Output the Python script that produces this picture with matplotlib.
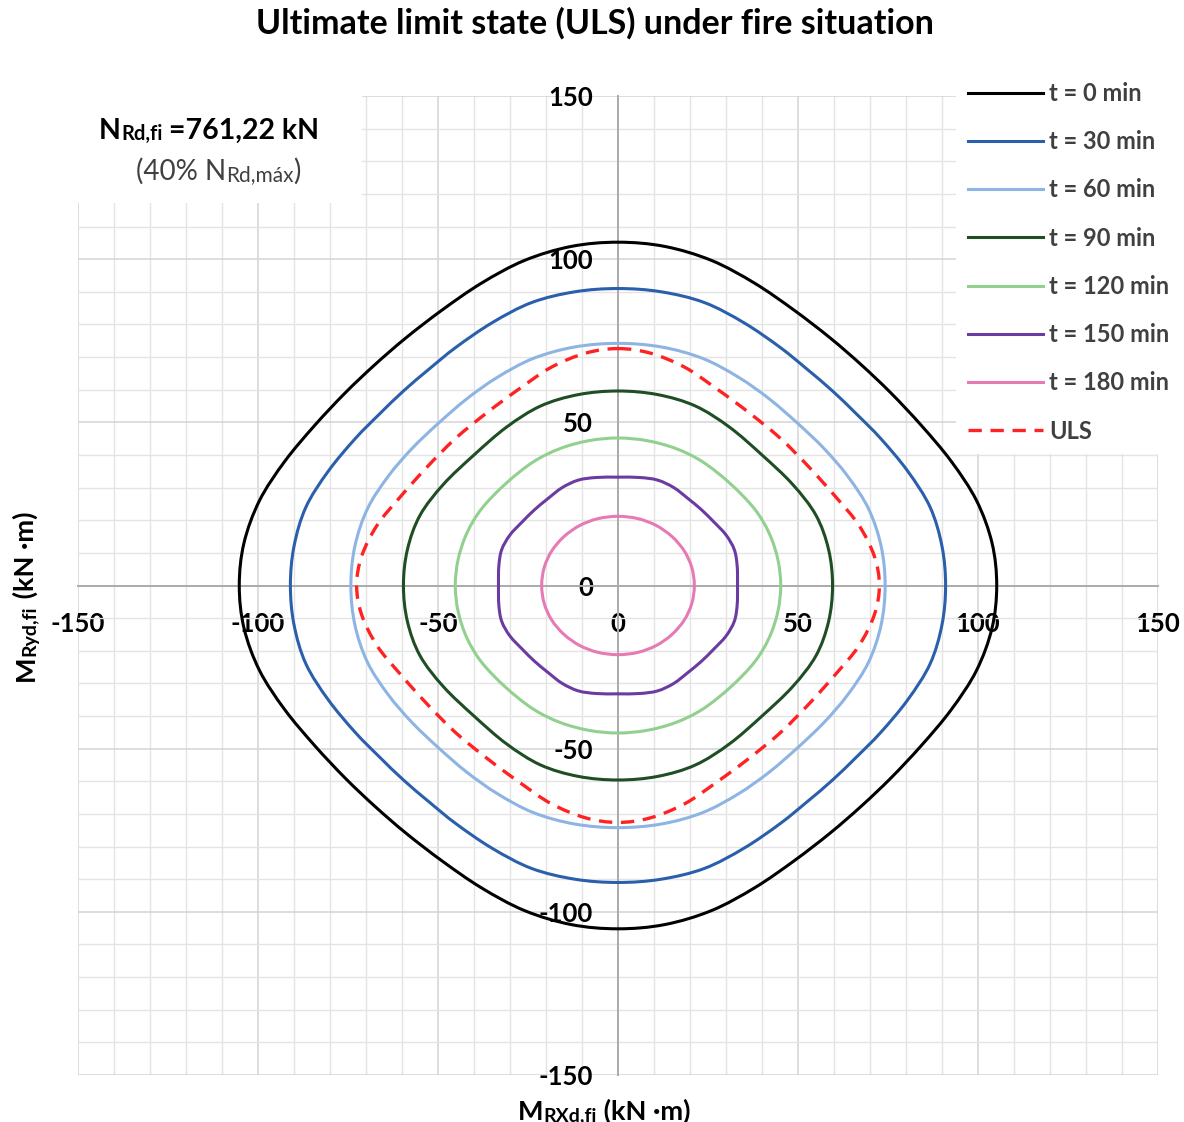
import matplotlib.pyplot as plt
from matplotlib.ticker import MultipleLocator
from matplotlib.patches import Rectangle, PathPatch
from matplotlib.path import Path
import numpy as np

plt.rcParams['font.family'] = ['Lato', 'DejaVu Sans']
plt.rcParams['axes.unicode_minus'] = False

# M_Rx / M_Ry interaction curves, first quadrant only (kN.m);
# the section is doubly symmetric so the other quadrants are mirrored
t0_x = [0, 13, 26, 38, 49, 59, 67.6, 75.8, 84.3, 92.6, 99.6, 103.9, 105.2]
t0_y = [105.2, 103.9, 99.6, 92.6, 84.3, 75.8, 67.6, 59, 49, 38, 26, 13, 0]

t30_x = [0, 12, 24, 35, 45, 52.5, 59.6, 66.3, 73, 80.5, 86.7, 90, 91]
t30_y = [91, 90, 86.7, 80.5, 73, 66.3, 59.6, 52.5, 45, 35, 24, 12, 0]

t60_x = [0, 12, 23.5, 33.5, 42, 49.8, 57.2, 63.8, 69.6, 73.1, 74.2]
t60_y = [74.2, 73.1, 69.6, 63.8, 57.2, 49.8, 42, 33.5, 23.5, 12, 0]

t90_x = [0, 11, 21.5, 31, 40, 48.5, 55, 58.5, 59.6]
t90_y = [59.6, 58.5, 55, 48.5, 40, 31, 21.5, 11, 0]

t120_x = [0, 8, 16, 23.5, 31.2, 37.9, 42, 44.4, 45.2]
t120_y = [45.2, 44.4, 42, 37.9, 31.2, 23.5, 16, 8, 0]

t150_x = [0, 6, 11, 15.5, 19.5, 23.2, 26.6, 30, 32.3, 33.1, 33.2]
t150_y = [33.2, 33.1, 32.3, 30, 26.6, 23.2, 19.5, 15.5, 11, 6, 0]

t180_x = [0, 5.5, 10.6, 15, 18.4, 20.5, 21.2]
t180_y = [21.2, 20.5, 18.4, 15, 10.6, 5.5, 0]

uls_x = [0, 9, 18.5, 27, 36, 45.1, 53.3, 60.6, 66.9, 71.2, 72.6]
uls_y = [72.6, 71.2, 66.9, 60.6, 53.3, 45.1, 36, 27, 18.5, 9, 0]

labels = ["t = 0 min", "t = 30 min", "t = 60 min", "t = 90 min",
          "t = 120 min", "t = 150 min", "t = 180 min", "ULS"]
colors = ["#000000", "#2a5fab", "#8db4e2", "#1f4d24",
          "#92d08f", "#6a3ba0", "#e67ab5", "#ff2222"]
curves = [(t0_x, t0_y), (t30_x, t30_y), (t60_x, t60_y), (t90_x, t90_y),
          (t120_x, t120_y), (t150_x, t150_y), (t180_x, t180_y), (uls_x, uls_y)]


def closed_curve(qx, qy):
    qx = np.asarray(qx, dtype=float)
    qy = np.asarray(qy, dtype=float)
    x = np.concatenate([qx, qx[::-1][1:], -qx[1:], -qx[::-1][1:]])
    y = np.concatenate([qy, -qy[::-1][1:], -qy[1:], qy[::-1][1:]])
    return x[:-1], y[:-1]


def smooth_path(x, y):
    # closed cubic bezier through the points (catmull-rom tangents),
    # like the "smoothed line" option of a spreadsheet scatter chart
    p = np.column_stack([x, y])
    n = len(p)
    verts = [p[0]]
    codes = [Path.MOVETO]
    for i in range(n):
        p0, p1, p2, p3 = p[i - 1], p[i], p[(i + 1) % n], p[(i + 2) % n]
        verts += [p1 + (p2 - p0) / 6, p2 - (p3 - p1) / 6, p2]
        codes += [Path.CURVE4] * 3
    return Path(verts, codes)


W, H = 1184, 1122
fig = plt.figure(figsize=(W / 100, H / 100), dpi=100)
ax = fig.add_axes([78 / W, 1 - 1075 / H, 1080 / W, 979 / H])

for (qx, qy), lab, col in zip(curves, labels, colors):
    x, y = closed_curve(qx, qy)
    if lab == "ULS":
        style = dict(lw=2.4, ls=(0, (4, 2.6)))
    else:
        style = dict(lw=2.2, ls='-')
    ax.add_patch(PathPatch(smooth_path(x, y), fill=False, edgecolor=col,
                           zorder=3, **style))
    ax.plot([], [], color=col, label=lab, **style)

ax.set_xlim(-150, 150)
ax.set_ylim(-150, 150)
ax.xaxis.set_major_locator(MultipleLocator(50))
ax.yaxis.set_major_locator(MultipleLocator(50))
ax.xaxis.set_minor_locator(MultipleLocator(10))
ax.yaxis.set_minor_locator(MultipleLocator(10))
ax.grid(which='major', color='#d4d4d4', lw=1.1)
ax.grid(which='minor', color='#e4e4e4', lw=1.0)
ax.set_axisbelow(True)

# axes cross at the origin
for side in ['top', 'right']:
    ax.spines[side].set_visible(False)
for side in ['left', 'bottom']:
    ax.spines[side].set_position('zero')
    ax.spines[side].set_color('#ababab')
    ax.spines[side].set_linewidth(1.4)

ax.tick_params(which='both', length=0)
ax.tick_params(axis='x', pad=19, labelsize=18.5)
ax.tick_params(axis='y', pad=18, labelsize=18.5)
plt.setp(ax.get_xticklabels() + ax.get_yticklabels(), fontweight='bold')

# white box behind the axial force note
ax.add_patch(Rectangle((0, 1 - 107 / 979), 284 / 1080, 107 / 979,
                       transform=ax.transAxes, facecolor='white',
                       edgecolor='none', zorder=2))


def chained(parts, x, y, color='black', weight='bold', rotation=0):
    # draw text pieces one after another, e.g. "M" + small "Rd,fi"
    if rotation:
        prev = fig.text(x / W, 1 - y / H, parts[0][0], fontsize=parts[0][1],
                        fontweight=weight, color=color, rotation=90,
                        ha='right', va='bottom')
        for s, size in parts[1:]:
            prev = ax.annotate(s, xy=(1, 1), xycoords=prev, fontsize=size,
                               fontweight=weight, color=color, rotation=90,
                               ha='right', va='bottom', annotation_clip=False)
    else:
        prev = fig.text(x / W, 1 - y / H, parts[0][0], fontsize=parts[0][1],
                        fontweight=weight, color=color, ha='left', va='bottom')
        for s, size in parts[1:]:
            prev = ax.annotate(s, xy=(1, 0), xycoords=prev, fontsize=size,
                               fontweight=weight, color=color,
                               ha='left', va='bottom', annotation_clip=False)


chained([("N", 20.5), ("Rd,fi", 14.5), (" =761,22 kN", 20.5)], 99, 144)
chained([("(40% N", 20), ("Rd,máx", 15), (")", 20)], 136, 185,
        color='#404040', weight='normal')
chained([("M", 19.5), ("RXd,fi", 14), (" (kN ·m)", 19.5)], 518, 1124)
chained([("M", 19.5), ("Ryd,fi", 14), (" (kN ·m)", 19.5)], 38, 681, rotation=90)

fig.text(595 / W, 1 - 23 / H, "Ultimate limit state (ULS) under fire situation",
         ha='center', va='center', fontsize=24.5, fontweight='bold')

leg = ax.legend(loc='upper left', bbox_to_anchor=(956 / W, 1 - 70 / H),
                bbox_transform=fig.transFigure, frameon=True,
                facecolor='white', edgecolor='none', framealpha=1,
                fancybox=False, handlelength=3.2, handletextpad=0.25,
                labelspacing=1.07, borderpad=0.5, borderaxespad=0,
                labelcolor='#404040', prop={'weight': 'bold', 'size': 17})

fig.savefig("out.png", dpi=100)
